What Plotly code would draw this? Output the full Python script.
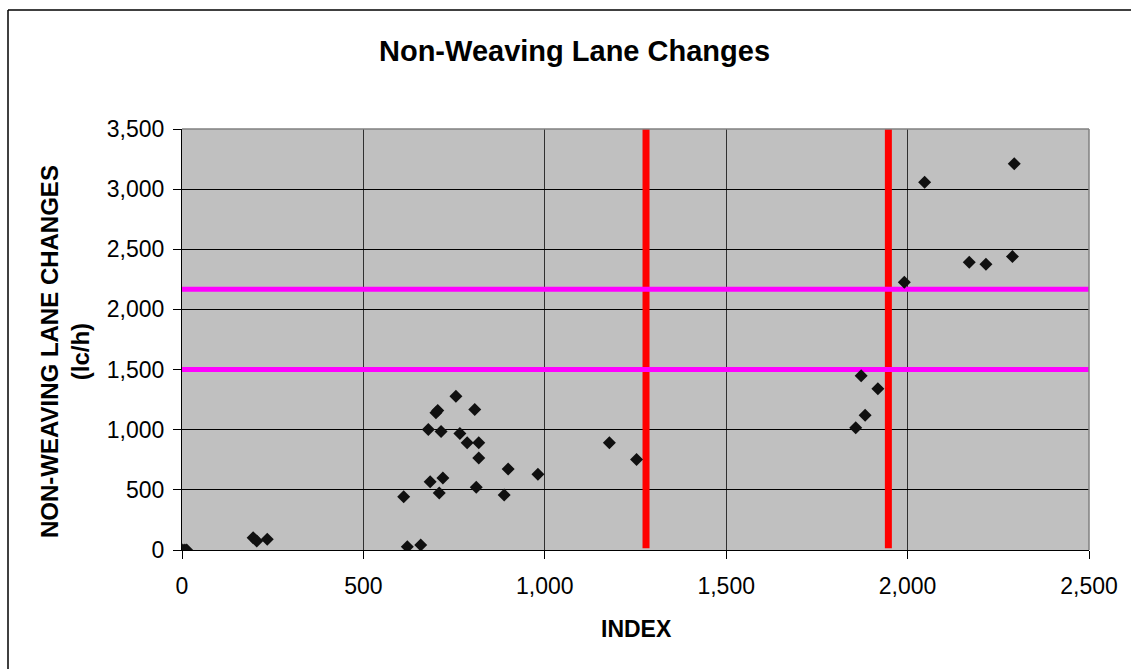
import plotly.graph_objects as go

# Data
index_vals = [2, 8, 13, 196, 206, 235, 611, 621, 658, 679, 684, 700, 705, 709, 714,
              719, 755, 766, 786, 807, 811, 818, 818, 888, 899, 981, 1178, 1253,
              1857, 1872, 1883, 1918, 1991, 2047, 2170, 2216, 2289, 2294]
lane_changes = [0, 0, 0, 102, 75, 89, 443, 27, 42, 1002, 568, 1140, 1160, 473, 986,
                598, 1279, 969, 891, 1169, 521, 891, 764, 457, 673, 629, 891, 753,
                1016, 1448, 1121, 1340, 2226, 3057, 2392, 2375, 2439, 3212]

vertical_thresholds = [1279, 1947]      # red lines (INDEX)
horizontal_thresholds = [1500, 2168]    # magenta lines (lc/h)

x_ticks = [0, 500, 1000, 1500, 2000, 2500]
y_ticks = [0, 500, 1000, 1500, 2000, 2500, 3000, 3500]

FONT = "Arial, Liberation Sans, sans-serif"

fig = go.Figure()

# red vertical lines
for xv in vertical_thresholds:
    fig.add_trace(go.Scatter(x=[xv, xv], y=[15, 3500], mode="lines",
                             line=dict(color="#FF0000", width=7),
                             showlegend=False, hoverinfo="skip"))

# magenta horizontal lines
for yv in horizontal_thresholds:
    fig.add_trace(go.Scatter(x=[x_ticks[0], x_ticks[-1]], y=[yv, yv], mode="lines",
                             line=dict(color="#FF00FF", width=5),
                             showlegend=False, hoverinfo="skip", cliponaxis=False))

# data points
fig.add_trace(go.Scatter(x=index_vals, y=lane_changes, mode="markers",
                         marker=dict(symbol="diamond", size=10, color="#101010",
                                     line=dict(width=0)),
                         showlegend=False))

axis_common = dict(showgrid=True, gridwidth=1,
                   showline=True, linecolor="#000000", linewidth=1,
                   ticks="outside", ticklen=8, tickcolor="#000000",
                   tickformat=",d", zeroline=False,
                   tickfont=dict(family=FONT, size=23, color="#000000"))

fig.update_xaxes(range=[0, 2500], tickvals=x_ticks, gridcolor="#303030",
                 ticklabelstandoff=7, **axis_common)
fig.update_yaxes(range=[0, 3500], tickvals=y_ticks, gridcolor="#000000",
                 ticklabelstandoff=4, **axis_common)

W, H = 1131, 669
L, R, T, B = 182, 42, 129, 119
pw, ph = W - L - R, H - T - B


def px_x(px):
    return (px - L) / pw


def px_y(py):
    return (H - B - py) / ph


shapes = [
    # outer chart border (left and top edges; the rest lies outside the picture)
    dict(type="line", xref="paper", yref="paper",
         x0=px_x(8), x1=px_x(8), y0=px_y(720), y1=px_y(10),
         line=dict(color="#000000", width=1.5)),
    dict(type="line", xref="paper", yref="paper",
         x0=px_x(8), x1=px_x(1200), y0=px_y(10), y1=px_y(10),
         line=dict(color="#000000", width=1.5)),
    # top and right plot-area border in gray
    dict(type="line", xref="paper", yref="paper", x0=0, x1=1, y0=1, y1=1,
         line=dict(color="#808080", width=1.5)),
    dict(type="line", xref="paper", yref="paper", x0=1, x1=1, y0=0, y1=1,
         line=dict(color="#808080", width=1.5)),
]

annotations = [
    dict(text="<b>Non-Weaving Lane Changes</b>", xref="paper", yref="paper",
         x=px_x(574), y=px_y(51), xanchor="center", yanchor="middle",
         showarrow=False, font=dict(family=FONT, size=29, color="#000000")),
    dict(text="<b>INDEX</b>", xref="paper", yref="paper",
         x=px_x(636), y=px_y(629), xanchor="center", yanchor="middle",
         showarrow=False, font=dict(family=FONT, size=23, color="#000000")),
    dict(text="<b>NON-WEAVING LANE CHANGES<br>(lc/h)</b>", xref="paper", yref="paper",
         x=px_x(65), y=px_y(352), xanchor="center", yanchor="middle",
         textangle=-90, showarrow=False,
         font=dict(family=FONT, size=24, color="#000000")),
]

fig.update_layout(
    width=W, height=H,
    margin=dict(l=L, r=R, t=T, b=B),
    paper_bgcolor="#FFFFFF",
    plot_bgcolor="#C0C0C0",
    shapes=shapes,
    annotations=annotations,
    showlegend=False,
)

fig.write_html("out.html")
